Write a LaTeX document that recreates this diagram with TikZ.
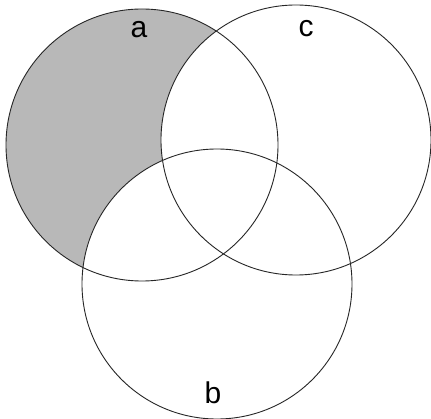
\documentclass[tikz,border=0pt]{standalone}
\usepackage{fontspec}
\setmainfont{Liberation Sans}
\begin{document}
\begin{tikzpicture}[x=1pt,y=-1pt,
  ring/.style={draw=black!85,line width=0.9pt},
  lbl/.style={font=\fontsize{30}{30}\selectfont,anchor=base,inner sep=0pt}]
\useasboundingbox (0,0) rectangle (431,419);
\fill[black!28] (142,145) circle (136);
\fill[white] (217,284) circle (135);
\fill[white] (296,140) circle (135);
\draw[ring] (142,145) circle (136);
\draw[ring] (296,140) circle (135);
\draw[ring] (217,284) circle (135);
\node[lbl] (la) at (139,38) {a};
\node[lbl] (lc) at (306,37) {c};
\node[lbl] (lb) at (213,403) {b};
\end{tikzpicture}
\end{document}
